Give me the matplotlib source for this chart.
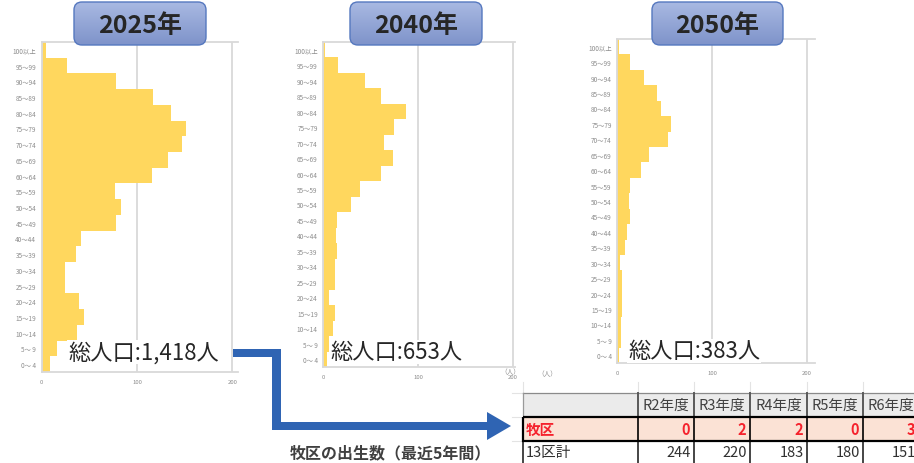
import matplotlib
matplotlib.use('Agg')
import matplotlib.pyplot as plt
import numpy as np
from matplotlib.patches import FancyBboxPatch, Rectangle, Polygon
from matplotlib.colors import LinearSegmentedColormap
from matplotlib.transforms import Bbox, TransformedBbox, IdentityTransform

plt.rcParams['font.family'] = ['Noto Sans CJK JP', 'DejaVu Sans']

# ---------------- data ----------------
ages = ["0～ 4", "5～ 9", "10～14", "15～19", "20～24", "25～29", "30～34",
        "35～39", "40～44", "45～49", "50～54", "55～59", "60～64", "65～69",
        "70～74", "75～79", "80～84", "85～89", "90～94", "95～99", "100以上"]
pop_2025 = [9, 16, 37, 44, 39, 24, 24, 36, 41, 78, 83, 77, 116, 133, 147, 151, 136, 117, 78, 27, 5]
pop_2040 = [4, 6, 10, 12, 6, 12, 12, 14, 13, 14, 29, 39, 61, 73, 64, 74, 87, 61, 44, 16, 2]
pop_2050 = [2, 4, 4, 5, 5, 5, 3, 8, 10, 13, 12, 13, 25, 33, 53, 57, 46, 42, 28, 13, 2]
years = ["2025年", "2040年", "2050年"]
totals = [1418, 653, 383]
x_ticks = [0, 100, 200]
x_tick_labels = ["0", "100", "200"]
fiscal_years = ["R2年度", "R3年度", "R4年度", "R5年度", "R6年度"]
births_maku = [0, 2, 2, 0, 3]
births_13ku = [244, 220, 183, 180, 151]
row_names = ["牧区", "13区計"]
subtitle = "牧区の出生数（最近5年間）"
unit_label = "（人）"

W, H = 914, 464
fig = plt.figure(figsize=(W / 100, H / 100), dpi=100)
fig.patch.set_facecolor('white')

BAR = '#FFD75E'
GRID = '#d9d9d9'
TICK = '#8c8c8c'


def px_axes(x0, x1, y0, y1, zorder=1):
    return fig.add_axes([x0 / W, 1 - y1 / H, (x1 - x0) / W, (y1 - y0) / H], zorder=zorder)


# (values, left px, right px, xmax, top px, bottom px)
charts = [
    (pop_2025, 41.7, 238.0, 206.0, 43, 373),
    (pop_2040, 323.3, 515.0, 202.0, 43, 368),
    (pop_2050, 617.3, 815.0, 208.5, 40, 364),
]

axes = []
for vals, x0, x1, xmax, y0, y1 in charts:
    ax = px_axes(x0, x1, y0, y1)
    ax.barh(np.arange(len(ages)), vals, height=1.0, color=BAR, zorder=2, linewidth=0)
    ax.set_xlim(0, xmax)
    ax.set_ylim(-0.5, len(ages) - 0.5)
    ax.set_yticks(np.arange(len(ages)))
    ax.set_yticklabels(ages)
    ax.set_xticks(x_ticks)
    ax.set_xticklabels(x_tick_labels)
    ax.xaxis.grid(True, color=GRID, linewidth=1.3)
    ax.set_axisbelow(True)
    for s in ['top', 'bottom', 'left']:
        ax.spines[s].set_color(GRID)
        ax.spines[s].set_linewidth(1.3)
    ax.spines['right'].set_visible(False)
    ax.tick_params(axis='y', labelsize=4.6, labelcolor=TICK, length=0, pad=4)
    ax.tick_params(axis='x', labelsize=4.3, labelcolor=TICK, length=0, pad=5)
    ax.set_facecolor('none')
    axes.append(ax)

# clip the "200" label of the middle chart (cut off in the reference)
clip_bb = TransformedBbox(Bbox([[0, 0], [517, H]]), IdentityTransform())
for lab in axes[1].get_xticklabels():
    lab.set_clip_box(clip_bb)
    lab.set_clip_on(True)

# ---------------- overlay ----------------
ov = fig.add_axes([0, 0, 1, 1], zorder=10)
ov.set_xlim(0, W)
ov.set_ylim(H, 0)
ov.axis('off')

grad_cmap = LinearSegmentedColormap.from_list('g', ['#a9b9e2', '#7e93ca'])
grad = np.linspace(0, 1, 100).reshape(-1, 1)
title_boxes = [(74, 206), (350, 482), (652, 783)]
for (bx0, bx1), yr in zip(title_boxes, years):
    box = FancyBboxPatch((bx0, 3), bx1 - bx0, 43,
                         boxstyle="round,pad=0,rounding_size=8",
                         fc='none', ec='#5578bf', lw=1.0, zorder=4)
    ov.add_patch(box)
    im = ov.imshow(grad, extent=(bx0, bx1, 46, 3), cmap=grad_cmap,
                   aspect='auto', origin='upper', zorder=3, interpolation='bilinear')
    im.set_clip_path(box)
    ov.text((bx0 + bx1) / 2, 26, yr, ha='center', va='center', fontsize=18,
            fontweight='bold', color='#262626', zorder=5)

# totals
total_pos = [(68, 353), (330, 353), (628, 352)]
for (tx, ty), tot in zip(total_pos, totals):
    ov.text(tx, ty, f"総人口:{tot:,}人", ha='left', va='center', fontsize=16,
            color='#262626', zorder=5,
            bbox=dict(fc='white', ec='none', pad=0.5))

# unit labels
ov.text(510, 372, unit_label, ha='center', va='center', fontsize=4.8, color=TICK, zorder=5)
ov.text(547, 374, unit_label, ha='center', va='center', fontsize=4.8, color=TICK, zorder=5)

# arrow
arrow_pts = [(233, 350), (281, 350), (281, 423), (487, 423), (487, 413),
             (511, 427), (487, 441), (487, 431), (272, 431), (272, 358), (233, 358)]
ov.add_patch(Polygon(arrow_pts, closed=True, fc='#2F64B3', ec='none', zorder=6))

# subtitle
ov.text(290, 453, subtitle, ha='left', va='center', fontsize=11.5,
        fontweight='bold', color='#404040', zorder=5)

# ---------------- table ----------------
cols = [523, 638, 694, 750, 807, 863, 919]
rows = [394, 418, 442, 467]
TW = cols[-1] - cols[0]

# faint excel gridlines
for cx in cols:
    ov.plot([cx, cx], [383, rows[0]], color='#e3e3e3', lw=0.8, zorder=2)
for ry in rows[:3]:
    ov.plot([512, cols[0]], [ry, ry], color='#e3e3e3', lw=0.8, zorder=2)

ov.add_patch(Rectangle((cols[0], rows[0]), TW, rows[1] - rows[0], fc='#ebebeb', ec='none', zorder=3))
ov.add_patch(Rectangle((cols[0], rows[1]), TW, rows[2] - rows[1], fc='#fbe2d5', ec='none', zorder=3))
ov.add_patch(Rectangle((cols[0], rows[2]), TW, rows[3] - rows[2], fc='white', ec='none', zorder=3))

# header lines
ov.plot([cols[0], cols[-1]], [rows[0], rows[0]], color='#8a8a8a', lw=0.9, zorder=4)
ov.plot([cols[0], cols[0]], [rows[0], rows[1]], color='#9a9a9a', lw=0.9, zorder=4)
for cx in cols[1:]:
    ov.plot([cx, cx], [rows[0], rows[1]], color='#5a5a5a', lw=1.4, zorder=4)
# row 3 verticals
for cx in cols:
    ov.plot([cx, cx], [rows[2], rows[3]], color='#262626', lw=1.2, zorder=4)
# row 2 inner verticals + thick box
for cx in cols[1:-1]:
    ov.plot([cx, cx], [rows[1], rows[2]], color='black', lw=1.2, zorder=4)
ov.add_patch(Rectangle((cols[0], rows[1]), TW, rows[2] - rows[1], fill=False,
                       ec='black', lw=1.6, zorder=5))

hy = (rows[0] + rows[1]) / 2
for i, fy in enumerate(fiscal_years):
    ov.text((cols[i + 1] + cols[i + 2]) / 2, hy, fy, ha='center', va='center',
            fontsize=10.5, color='#404040', zorder=6)

r2y = (rows[1] + rows[2]) / 2
ov.text(cols[0] + 3, r2y, row_names[0], ha='left', va='center', fontsize=10.5,
        fontweight='bold', color='#f5222d', zorder=6)
for i, v in enumerate(births_maku):
    ov.text(cols[i + 2] - 4, r2y, str(v), ha='right', va='center', fontsize=10.5,
            fontweight='bold', color='#f5222d', zorder=6)

r3y = (rows[2] + rows[3]) / 2 - 1
ov.text(cols[0] + 3, r3y, row_names[1], ha='left', va='center', fontsize=10.5,
        color='#303030', zorder=6)
for i, v in enumerate(births_13ku):
    ov.text(cols[i + 2] - 3, r3y, str(v), ha='right', va='center', fontsize=10.5,
            color='#303030', zorder=6)

fig.savefig('out.png', dpi=100, facecolor='white')
